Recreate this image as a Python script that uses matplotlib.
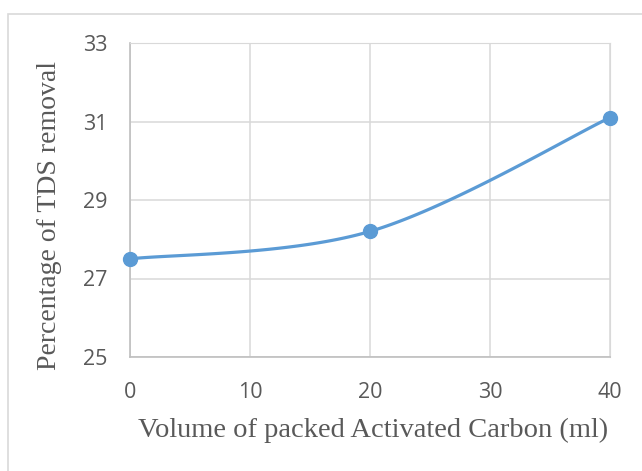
import matplotlib
matplotlib.use('Agg')
import matplotlib.pyplot as plt
from matplotlib.patches import Rectangle
import numpy as np

volume = [0, 20, 40]
tds_removal = [27.5, 28.2, 31.1]
x_ticks = [0, 10, 20, 30, 40]
y_ticks = [25, 27, 29, 31, 33]


def smooth_line(xs, ys, n=60):
    # Excel-style smoothing: cubic Bezier, control points from neighbours
    pts = np.column_stack([xs, ys]).astype(float)
    out = []
    for i in range(len(pts) - 1):
        p0 = pts[max(i - 1, 0)]
        p1 = pts[i]
        p2 = pts[i + 1]
        p3 = pts[min(i + 2, len(pts) - 1)]
        c1 = p1 + (p2 - p0) / 6
        c2 = p2 - (p3 - p1) / 6
        t = np.linspace(0, 1, n)[:, None]
        seg = ((1 - t) ** 3) * p1 + 3 * ((1 - t) ** 2) * t * c1 + 3 * (1 - t) * t ** 2 * c2 + t ** 3 * p2
        out.append(seg)
    seg = np.vstack(out)
    return seg[:, 0], seg[:, 1]


fig = plt.figure(figsize=(6.42, 4.71), dpi=100)
ax = fig.add_axes([130 / 642, 1 - 357 / 471, 480 / 642, 314 / 471])

# chart border
fig.patches.append(Rectangle((8 / 642, -0.05), 1.0, 1 - 14 / 471 + 0.05,
                             transform=fig.transFigure, fill=False,
                             edgecolor='#d9d9d9', linewidth=1.2))

sx, sy = smooth_line(volume, tds_removal)
ax.plot(sx, sy, color='#5b9bd5', linewidth=2.3, solid_capstyle='round', zorder=3)
ax.plot(volume, tds_removal, 'o', color='#5b9bd5', markersize=10, zorder=4, clip_on=False)

ax.set_xlim(0, 40)
ax.set_ylim(25, 33)
ax.set_xticks(x_ticks)
ax.set_yticks(y_ticks)
ax.grid(True, color='#d9d9d9', linewidth=1.1)
ax.set_axisbelow(True)
for side in ['top', 'right']:
    ax.spines[side].set_color('#d9d9d9')
for side in ['left', 'bottom']:
    ax.spines[side].set_color('#bfbfbf')
    ax.spines[side].set_linewidth(1.2)
ax.tick_params(length=0, labelsize=15.5, labelcolor='#595959')
for lab in ax.get_xticklabels() + ax.get_yticklabels():
    lab.set_fontfamily('Open Sans')
ax.tick_params(axis='y', pad=16)
ax.tick_params(axis='x', pad=18)

ax.set_xlabel('Volume of packed Activated Carbon (ml)', fontfamily='Liberation Serif',
              fontsize=20.5, color='#595959', labelpad=12)
ax.set_ylabel('Percentage of TDS removal', fontfamily='Liberation Serif',
              fontsize=20, color='#595959')
ax.xaxis.set_label_coords((373 - 130) / 480, -(430 - 357) / 314, transform=ax.transAxes)
ax.xaxis.label.set_va('center')
ax.yaxis.set_label_coords(-(130 - 50) / 480, (357 - 215) / 314, transform=ax.transAxes)
ax.yaxis.label.set_va('center')

fig.savefig('out.png', dpi=100)
